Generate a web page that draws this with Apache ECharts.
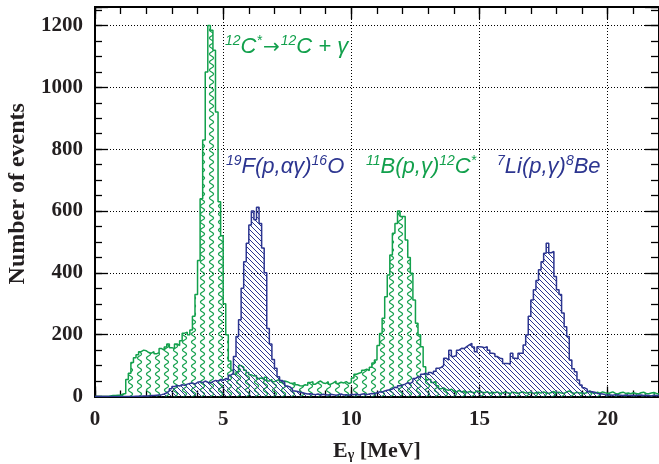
<!DOCTYPE html>
<html><head><meta charset="utf-8">
<script src="https://cdn.jsdelivr.net/npm/echarts@6/dist/echarts.min.js"></script>
<style>html,body{margin:0;padding:0;background:#fff}#c{width:659px;height:464px}</style>
</head><body><div id="c"></div>
<script>
// ---- data (bin width 0.1 MeV, bins start at 0 MeV) ----
const binWidth = 0.1;
const xTickLabels = [0, 5, 10, 15, 20];
const yTickLabels = [0, 200, 400, 600, 800, 1000, 1200];
// 12C* -> 12C + gamma and 11B(p,gamma)12C* (green)
const greenCounts = [
  0,0,0,0,0,2,3,3,4,4,
  8,10,55,75,110,125,135,145,150,148,
  142,140,145,138,142,155,150,160,170,158,
  155,170,165,180,205,208,200,215,260,330,
  440,640,830,1050,1200,1185,1120,920,630,520,
  300,200,115,85,72,80,100,95,85,78,
  70,66,68,58,60,55,62,50,55,48,
  52,55,46,50,48,44,42,45,38,35,
  34,38,36,45,48,40,46,50,44,42,
  48,40,44,50,42,46,44,48,42,45,
  60,72,75,78,85,88,84,95,108,118,
  165,204,253,323,393,458,528,560,600,582,
  582,506,450,399,312,237,200,161,96,55,
  55,45,50,35,25,28,22,20,24,18,
  15,20,14,18,12,16,14,12,18,15,
  14,12,16,10,14,12,15,10,12,14,
  12,10,14,12,10,13,15,11,12,14,
  10,12,14,11,15,12,10,13,16,12,
  14,11,10,15,18,12,10,14,11,12,
  10,13,18,12,10,14,11,15,12,10,
  12,15,10,8,12,14,10,11,9,12,
  10,8,12,14,10,9,11,13,10,8
];
// 19F(p,alpha gamma)16O and 7Li(p,gamma)8Be (blue)
const blueCounts = [
  0,0,0,0,0,0,0,0,0,0,
  0,0,0,0,0,1,1,1,2,2,
  2,3,3,4,5,6,8,12,18,25,
  32,36,34,38,36,40,42,44,40,46,
  48,45,50,46,44,48,52,50,55,52,
  58,55,69,75,129,194,248,350,436,496,
  555,600,572,612,560,480,400,220,170,120,
  91,64,52,46,34,31,25,18,16,14,
  12,10,8,9,7,6,8,5,7,6,
  5,7,6,4,6,8,5,6,4,7,
  6,8,5,7,9,6,8,10,9,12,
  15,14,18,20,22,24,30,28,35,37,
  40,45,42,48,58,64,62,72,75,70,
  78,72,82,91,94,100,124,118,150,129,
  134,150,156,155,161,167,172,160,145,161,
  160,158,161,150,140,138,129,124,122,107,
  107,105,140,124,122,140,140,167,199,260,
  312,345,375,410,436,463,496,465,469,388,
  345,330,270,226,194,118,90,80,53,37,
  28,24,16,15,14,10,9,8,6,5,
  5,4,6,5,4,3,5,4,3,4,
  3,4,5,3,4,3,2,4,3,3
];

const GREEN = '#12a04c';
const BLUE = '#2c3590';
const SERIF = 'Liberation Serif';
const SANS = 'Liberation Sans';

function toSteps(counts) {
  const pts = counts.map((c, i) => [+(i * binWidth).toFixed(2), c]);
  pts.push([+(counts.length * binWidth).toFixed(2), counts[counts.length - 1]]);
  return pts;
}
function wavePattern(color) {
  const w = 9, h = 8;
  const c = document.createElement('canvas'); c.width = w; c.height = h;
  const g = c.getContext('2d'); g.strokeStyle = color; g.lineWidth = 1.2;
  g.beginPath();
  for (let y = -1; y <= h + 1; y += 0.25) {
    const x = w / 2 + 2.0 * Math.sin(2 * Math.PI * y / h);
    if (y === -1) g.moveTo(x, y); else g.lineTo(x, y);
  }
  g.stroke();
  return c;
}
function hatchPattern(color) {
  const s = 5;
  const c = document.createElement('canvas'); c.width = s; c.height = s;
  const g = c.getContext('2d'); g.strokeStyle = color; g.lineWidth = 1;
  g.beginPath();
  g.moveTo(-1, -1); g.lineTo(s + 1, s + 1);
  g.moveTo(-1, s - 1); g.lineTo(1, s + 1);
  g.moveTo(s - 1, -1); g.lineTo(s + 1, 1);
  g.stroke();
  return c;
}

const frame = { color: '#000', width: 2 };
const tickStyle = { color: '#000', width: 1.3 };
const dotted = { color: '#000', width: 1, type: [1, 2] };
function xAx(pos, interval, len, main) {
  return {
    type: 'value', min: 0, max: 22, interval: interval, position: pos,
    axisLine: { show: true, onZero: false, lineStyle: frame },
    axisTick: { show: true, inside: true, length: len, lineStyle: tickStyle },
    axisLabel: main ? {
      show: true, margin: 13, color: '#231f20', fontFamily: SERIF, fontWeight: 'bold', fontSize: 21,
      formatter: v => xTickLabels.includes(v) ? String(v) : ''
    } : { show: false },
    splitLine: { show: !!main, lineStyle: dotted }
  };
}
function yAx(pos, interval, len, main) {
  return {
    type: 'value', min: 0, max: 1260, interval: interval, position: pos,
    axisLine: { show: true, onZero: false, lineStyle: frame },
    axisTick: { show: true, inside: true, length: len, lineStyle: tickStyle },
    axisLabel: main ? {
      show: true, margin: 12, color: '#231f20', fontFamily: SERIF, fontWeight: 'bold', fontSize: 21,
      formatter: v => yTickLabels.includes(v) ? String(v) : ''
    } : { show: false },
    splitLine: { show: !!main, lineStyle: dotted }
  };
}

const xAxes = [xAx('bottom', 5, 10, true), xAx('bottom', 1, 6, false), xAx('top', 5, 12, false), xAx('top', 1, 7, false)];
xAxes[0].name = '{e|E}{g|γ}{e| [MeV]}';
xAxes[0].nameLocation = 'middle';
xAxes[0].nameGap = 40;
xAxes[0].nameTextStyle = {
  rich: {
    e: { fontFamily: SERIF, fontWeight: 'bold', fontSize: 22, color: '#231f20', verticalAlign: 'bottom', lineHeight: 26 },
    g: { fontFamily: SERIF, fontWeight: 'bold', fontSize: 14, color: '#231f20', verticalAlign: 'bottom', lineHeight: 14 }
  }
};
const yAxes = [yAx('left', 200, 13, true), yAx('left', 50, 7, false), yAx('right', 200, 14, false), yAx('right', 50, 8, false)];
yAxes[0].name = 'Number of events';
yAxes[0].nameLocation = 'middle';
yAxes[0].nameGap = 64;
yAxes[0].nameTextStyle = { fontFamily: SERIF, fontWeight: 'bold', fontSize: 24, color: '#231f20', padding: [0, 0, 0, 16] };

function label(parts) { // parts: [text, style]
  return parts.map(p => '{' + p[1] + '|' + p[0] + '}').join('');
}
function richFor(color) {
  return {
    m: { fontFamily: SANS, fontStyle: 'italic', fontSize: 22, fill: color, verticalAlign: 'bottom', lineHeight: 26 },
    a: { fontFamily: 'DejaVu Sans', fontSize: 20, fill: color, verticalAlign: 'bottom', lineHeight: 26, padding: [0, 1, 0, 1] },
    s: { fontFamily: SANS, fontStyle: 'italic', fontSize: 14, fill: color, verticalAlign: 'bottom', lineHeight: 14, padding: [0, 0, 10, 0] }
  };
}
const annotations = [
  { parts: [['12', 's'], ['C', 'm'], ['*', 's'], ['→', 'a'], ['12', 's'], ['C + γ', 'm']], color: GREEN, left: 225, top: 34 },
  { parts: [['19', 's'], ['F(p,αγ)', 'm'], ['16', 's'], ['O', 'm']], color: BLUE, left: 226, top: 154 },
  { parts: [['11', 's'], ['B(p,γ)', 'm'], ['12', 's'], ['C', 'm'], ['*', 's']], color: GREEN, left: 366, top: 154 },
  { parts: [['7', 's'], ['Li(p,γ)', 'm'], ['8', 's'], ['Be', 'm']], color: BLUE, left: 497, top: 154 }
];

const chart = echarts.init(document.getElementById('c'), null, { renderer: 'canvas' });
chart.setOption({
  animation: false,
  backgroundColor: '#fff',
  grid: { left: 95, right: 0, top: 7, bottom: 67.5, containLabel: false, outerBoundsMode: 'none' },
  xAxis: xAxes,
  yAxis: yAxes,
  graphic: annotations.map(a => ({
    type: 'text', left: a.left, top: a.top, z: 100,
    style: { text: label(a.parts), rich: richFor(a.color), fill: a.color }
  })),
  series: [
    {
      type: 'line', name: 'green', data: toSteps(greenCounts), step: 'end', showSymbol: false,
      lineStyle: { color: GREEN, width: 1.5 }, itemStyle: { color: GREEN },
      areaStyle: { color: { image: wavePattern(GREEN), repeat: 'repeat' }, opacity: 1 },
      z: 3, silent: true
    },
    {
      type: 'line', name: 'blue', data: toSteps(blueCounts), step: 'end', showSymbol: false,
      lineStyle: { color: BLUE, width: 1.5 }, itemStyle: { color: BLUE },
      areaStyle: { color: { image: hatchPattern(BLUE), repeat: 'repeat' }, opacity: 1 },
      z: 4, silent: true
    }
  ]
});
</script></body></html>
